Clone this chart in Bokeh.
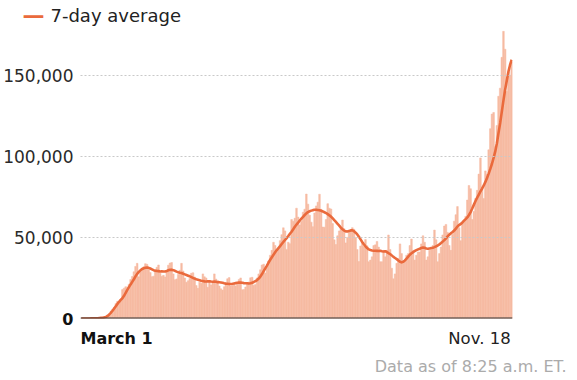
from bokeh.plotting import figure
from bokeh.models import ColumnDataSource, Range1d, Span, FixedTicker
from bokeh.core.properties import value
from bokeh.embed import file_html
from bokeh.resources import INLINE

# ---------------- data (thousands of new cases per day, Mar 1 - Nov 18) ----------------
daily_mar = [0.0, 0.0, 0.0, 0.0, 0.1, 0.1, 0.1,
             0.1, 0.2, 0.3, 0.3, 0.5, 0.5, 0.7,
             0.8, 1.0, 1.7, 2.8, 4.6, 5.6, 6.9,
             9.3, 10.6, 10.5, 12.0, 17.8, 18.7, 19.6,
             19.3, 21.1, 24.0]
daily_apr = [25.9, 28.8, 32.1, 34.0,
             25.7, 28.6, 30.4, 31.9, 33.8, 33.4, 30.1,
             28.3, 25.8, 26.1, 28.8, 31.6, 33.0, 27.9,
             26.1, 26.6, 25.6, 28.8, 32.9, 34.2, 34.5,
             27.5, 23.9, 24.4, 27.2, 29.7]
daily_may = [34.0, 29.3,
             24.9, 22.3, 23.3, 24.6, 27.9, 28.2, 25.6,
             20.3, 18.6, 22.4, 21.8, 27.5, 25.7, 25.0,
             19.2, 22.4, 20.7, 22.4, 27.5, 24.3, 23.2,
             20.0, 18.3, 17.5, 19.6, 22.0, 24.5, 25.2,
             20.0]
daily_jun = [20.5, 21.0, 20.1, 22.0, 24.1, 25.0,
             17.7, 17.9, 19.4, 21.5, 22.5, 25.1, 25.4,
             20.5, 21.0, 25.0, 27.5, 30.0, 33.0, 33.5,
             28.0, 32.0, 35.5, 39.0, 42.0, 47.0, 45.0,
             41.5, 43.0, 48.0]
daily_jul = [51.7, 55.9, 54.0, 42.6,
             47.0, 46.1, 61.0, 60.0, 61.8, 68.0, 62.5,
             57.7, 60.0, 65.5, 67.4, 76.7, 70.5, 63.7,
             59.4, 56.6, 65.0, 69.4, 71.7, 76.6, 67.3,
             56.4, 56.3, 61.0, 70.8, 68.0, 67.5]
daily_aug = [58.5,
             48.5, 45.6, 51.0, 54.0, 56.2, 60.7, 55.4,
             46.6, 50.0, 53.5, 54.5, 56.0, 55.0, 50.0,
             42.5, 35.1, 44.7, 47.0, 44.6, 48.7, 44.8,
             35.0, 36.0, 38.0, 45.0, 45.4, 47.5, 44.0,
             35.0, 35.0]
daily_sep = [42.0, 38.0, 42.0, 51.5, 42.5,
             31.0, 24.5, 27.5, 34.0, 37.0, 46.0, 40.0,
             34.0, 35.0, 39.0, 40.0, 45.0, 49.0, 42.0,
             36.0, 39.0, 41.0, 41.0, 46.0, 51.0, 47.0,
             36.0, 38.0, 42.0, 43.0]
daily_oct = [45.0, 54.5, 48.5,
             35.0, 40.0, 44.0, 51.5, 57.0, 58.0, 53.0,
             45.0, 42.0, 52.0, 60.0, 64.0, 69.0, 56.0,
             48.0, 59.0, 60.0, 63.0, 73.0, 82.0, 80.0,
             61.0, 66.0, 74.0, 79.0, 89.0, 99.0, 81.0]
daily_nov = [74.0, 91.0, 89.0, 104.0, 117.0, 126.0, 127.0,
             106.0, 119.0, 137.0, 142.0, 161.0, 177.0, 166.0,
             140.0, 152.0, 150.0, 158.0]

avg_mar = [0.0, 0.0, 0.0, 0.0, 0.0, 0.0, 0.1,
           0.1, 0.1, 0.1, 0.2, 0.3, 0.4, 0.5,
           0.7, 1.0, 1.6, 2.5, 3.5, 4.8, 6.2,
           7.6, 9.0, 10.3, 11.5, 12.5, 14.0, 15.8,
           17.6, 19.3, 21.0]
avg_apr = [22.6, 24.2, 26.0, 27.5,
           28.7, 29.7, 30.5, 31.0, 31.3, 31.4, 31.2,
           30.8, 30.3, 29.8, 29.5, 29.3, 29.2, 29.0,
           29.1, 29.0, 29.0, 29.3, 29.7, 30.0, 30.1,
           29.8, 29.4, 28.9, 28.5, 28.2]
avg_may = [28.0, 27.6,
           27.2, 26.8, 26.4, 26.0, 25.5, 25.0, 24.6,
           24.2, 23.9, 23.6, 23.3, 23.1, 22.9, 22.8,
           22.9, 23.0, 22.8, 22.7, 22.8, 22.6, 22.4,
           22.3, 22.2, 22.0, 21.7, 21.5, 21.4, 21.3,
           21.3]
avg_jun = [21.4, 21.6, 21.8, 22.0, 22.1, 22.2,
           22.0, 21.8, 21.7, 21.7, 21.6, 21.7, 22.0,
           22.5, 23.1, 23.7, 24.6, 25.8, 27.4, 29.2,
           30.9, 32.6, 34.5, 36.2, 37.8, 39.3, 40.8,
           42.2, 43.4, 44.6]
avg_jul = [45.9, 47.2, 48.4, 49.6,
           50.8, 52.2, 53.5, 55.0, 56.6, 57.9, 59.1,
           60.4, 61.6, 62.7, 63.8, 64.8, 65.6, 66.1,
           66.5, 66.8, 67.0, 67.0, 66.9, 66.7, 66.4,
           66.0, 65.5, 65.0, 64.3, 63.6, 62.8]
avg_aug = [61.8,
           60.6, 59.5, 58.4, 57.2, 56.0, 55.0, 54.2,
           53.7, 53.6, 54.0, 54.3, 54.4, 53.8, 52.9,
           51.8, 50.4, 48.8, 47.2, 45.8, 44.5, 43.4,
           42.6, 42.2, 41.9, 41.8, 41.8, 41.7, 41.6,
           41.8, 41.5]
avg_sep = [41.3, 41.5, 41.0, 40.3, 39.7,
           38.9, 38.0, 37.3, 36.6, 35.8, 35.0, 34.6,
           35.0, 35.8, 36.9, 38.1, 39.3, 40.2, 40.9,
           41.6, 42.1, 42.6, 43.0, 43.5, 43.8, 43.6,
           43.2, 43.0, 43.2, 43.4]
avg_oct = [43.6, 44.0, 44.5,
           45.0, 45.7, 46.5, 47.4, 48.3, 49.4, 50.6,
           51.6, 52.5, 53.3, 54.2, 55.4, 56.7, 57.6,
           58.3, 59.2, 60.3, 61.3, 62.3, 63.8, 65.6,
           67.8, 70.2, 72.4, 74.5, 76.4, 78.3, 80.1]
avg_nov = [82.0, 84.2, 86.6, 89.3, 92.2, 95.4, 99.0,
           103.0, 108.0, 114.5, 120.5, 127.5, 134.5, 141.0,
           146.5, 152.0, 156.3, 159.5]

y_ticks = [50, 100, 150]
y_tick_labels = ["50,000", "100,000", "150,000"]
zero_tick = [0]
zero_label = ["0"]
first_label = ["March 1"]
last_label = ["Nov. 18"]
legend_label = ["7-day average"]
legend_swatch = ["\u2014"]
footnote = ["Data as of 8:25 a.m. ET."]

# ---------------- assemble ----------------
daily = (daily_mar + daily_apr + daily_may + daily_jun + daily_jul +
         daily_aug + daily_sep + daily_oct + daily_nov)
avg = (avg_mar + avg_apr + avg_may + avg_jun + avg_jul +
       avg_aug + avg_sep + avg_oct + avg_nov)
days = list(range(len(daily)))
src = ColumnDataSource(dict(day=days, cases=daily, avg=avg))

x0 = -0.5
x1 = days[-1] + 0.5
y_top = 180

BAR = "#F6BBA3"
LINE = "#EA6A3C"
FONT = value("DejaVu Sans")

p = figure(width=577, height=380, x_range=Range1d(x0, x1), y_range=Range1d(0, y_top),
           output_backend="svg", toolbar_location=None,
           min_border_left=80, min_border_right=65, min_border_top=26, min_border_bottom=62)
p.outline_line_color = None
p.background_fill_color = "white"
p.border_fill_color = "white"
p.xaxis.visible = False
p.yaxis.visible = False
p.xgrid.visible = False
p.ygrid.ticker = FixedTicker(ticks=y_ticks)
p.ygrid.grid_line_color = "#c9c9c9"
p.ygrid.grid_line_dash = "2 2"
p.ygrid.grid_line_width = 1
p.ygrid.level = "overlay"

p.vbar(x="day", top="cases", bottom=0, width=1.0, source=src,
       fill_color=BAR, line_color=BAR, line_width=0.5)
p.line(x="day", y="avg", source=src, line_color=LINE, line_width=2.6, line_join="round")

p.add_layout(Span(location=0, dimension="width", line_color="#333333", line_width=2))

# y tick labels
p.text(x=[x0] * len(y_ticks), y=y_ticks, text=y_tick_labels, text_align="right",
       text_baseline="middle", x_offset=-7, text_font=FONT, text_font_size="17px",
       text_color="#2a2a2a", level="overlay")
p.text(x=[x0], y=zero_tick, text=zero_label, text_align="right", text_baseline="middle",
       x_offset=-7, text_font=FONT, text_font_size="16px", text_font_style="bold",
       text_color="#111111", level="overlay")

# x labels
p.text(x=[x0], y=zero_tick, text=first_label, text_align="left", text_baseline="middle",
       y_offset=20, text_font=FONT, text_font_size="16px", text_font_style="bold",
       text_color="#111111", level="overlay")
p.text(x=[days[-1]], y=zero_tick, text=last_label, text_align="right", text_baseline="middle",
       x_offset=-1, y_offset=20, text_font=FONT, text_font_size="16.5px", text_color="#222222",
       level="overlay")
p.text(x=[x1], y=zero_tick, text=footnote, text_align="right", text_baseline="middle",
       x_offset=54, y_offset=48, text_font=FONT, text_font_size="16px",
       text_color="#ababab", level="overlay")

# legend (swatch + label) at top-left, outside the frame
p.text(x=[x0], y=[y_top], text=legend_swatch, text_align="left", text_baseline="middle",
       x_offset=-58, y_offset=-11, text_font=FONT, text_font_size="22px",
       text_font_style="bold", text_color=LINE, level="overlay")
p.text(x=[x0], y=[y_top], text=legend_label, text_align="left", text_baseline="middle",
       x_offset=-30, y_offset=-11, text_font=FONT, text_font_size="18px",
       text_color="#222222", level="overlay")

open("out.html", "w").write(file_html(p, INLINE))
